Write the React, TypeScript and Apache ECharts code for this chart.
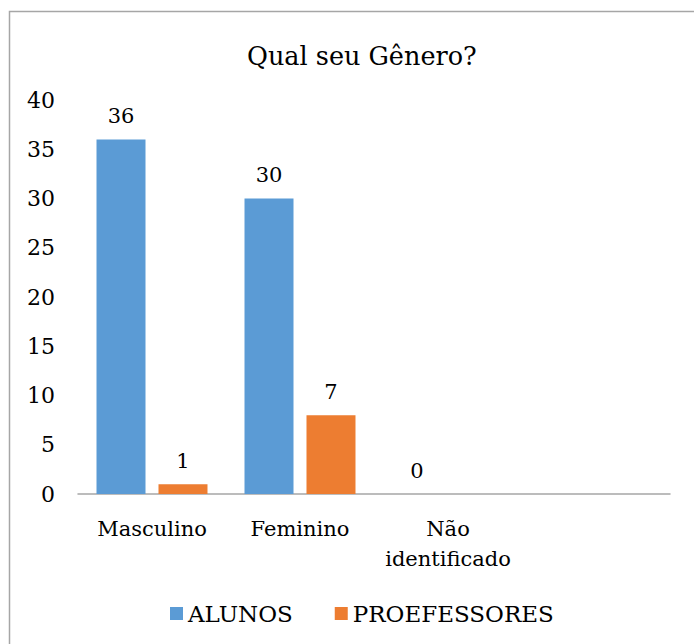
import React, { useEffect, useRef } from "react";
import * as echarts from "echarts";

const categories = ["Masculino", "Feminino", "Não identificado", ""];
const alunosValues: (number | null)[] = [36, 30, 0, null];
const professoresValues: (number | null)[] = [1, 8, null, null];
const professoresLabels: string[] = ["1", "7", "", ""];
const yTicks = { min: 0, max: 40, interval: 5 };
const seriesNames = ["ALUNOS", "PROEFESSORES"];
const titleText = "Qual seu Gênero?";

const FONT = "DejaVu Serif";

export default function App() {
  const ref = useRef<HTMLDivElement>(null);
  useEffect(() => {
    if (!ref.current) return;
    const chart = echarts.init(ref.current, undefined, { renderer: "svg" });
    chart.setOption({
      animation: false,
      backgroundColor: "#ffffff",
      textStyle: { fontFamily: FONT, color: "#000" },
      title: {
        text: titleText,
        left: 242,
        top: 38,
        textStyle: { fontFamily: FONT, fontSize: 25.5, fontWeight: "normal", color: "#000" },
      },
      graphic: [
        {
          type: "rect",
          shape: { x: 9.5, y: 11.5, width: 720, height: 720 },
          style: { fill: "none", stroke: "#a6a6a6", lineWidth: 1.5 },
          silent: true,
          z: -1,
        },
      ],
      legend: {
        data: seriesNames,
        left: 165,
        top: 597,
        icon: "rect",
        itemWidth: 13,
        itemHeight: 13,
        itemGap: 42,
        textStyle: { fontFamily: FONT, fontSize: 23, color: "#000" },
      },
      grid: { left: 78, right: 24, top: 100, bottom: 150, outerBoundsMode: "none" },
      xAxis: {
        type: "category",
        data: categories,
        axisLine: { lineStyle: { color: "#a6a6a6", width: 1.5 } },
        axisTick: { show: false },
        axisLabel: {
          fontFamily: FONT,
          fontSize: 21,
          color: "#000",
          margin: 20,
          lineHeight: 30,
          interval: 0,
          formatter: (v: string) => (v.length > 12 ? v.replace(" ", "\n") : v),
        },
      },
      yAxis: {
        type: "value",
        min: yTicks.min,
        max: yTicks.max,
        interval: yTicks.interval,
        axisLine: { show: false },
        axisTick: { show: false },
        splitLine: { show: false },
        axisLabel: { fontFamily: FONT, fontSize: 22, color: "#000", margin: 23 },
      },
      series: [
        {
          name: seriesNames[0],
          type: "bar",
          data: alunosValues,
          barWidth: 49,
          barGap: "26.5%",
          itemStyle: { color: "#5B9BD5" },
          label: {
            show: true,
            position: "top",
            distance: 13,
            fontFamily: FONT,
            fontSize: 21,
            color: "#000",
          },
        },
        {
          name: seriesNames[1],
          type: "bar",
          data: professoresValues,
          barWidth: 49,
          barGap: "26.5%",
          itemStyle: { color: "#ED7D31" },
          label: {
            show: true,
            position: "top",
            distance: 13,
            fontFamily: FONT,
            fontSize: 21,
            color: "#000",
            formatter: (p: any) => professoresLabels[p.dataIndex],
          },
        },
      ],
    });
    return () => chart.dispose();
  }, []);
  return (
    <div
      ref={ref}
      style={{ position: "fixed", left: 0, top: 0, width: 694, height: 644 }}
    />
  );
}
